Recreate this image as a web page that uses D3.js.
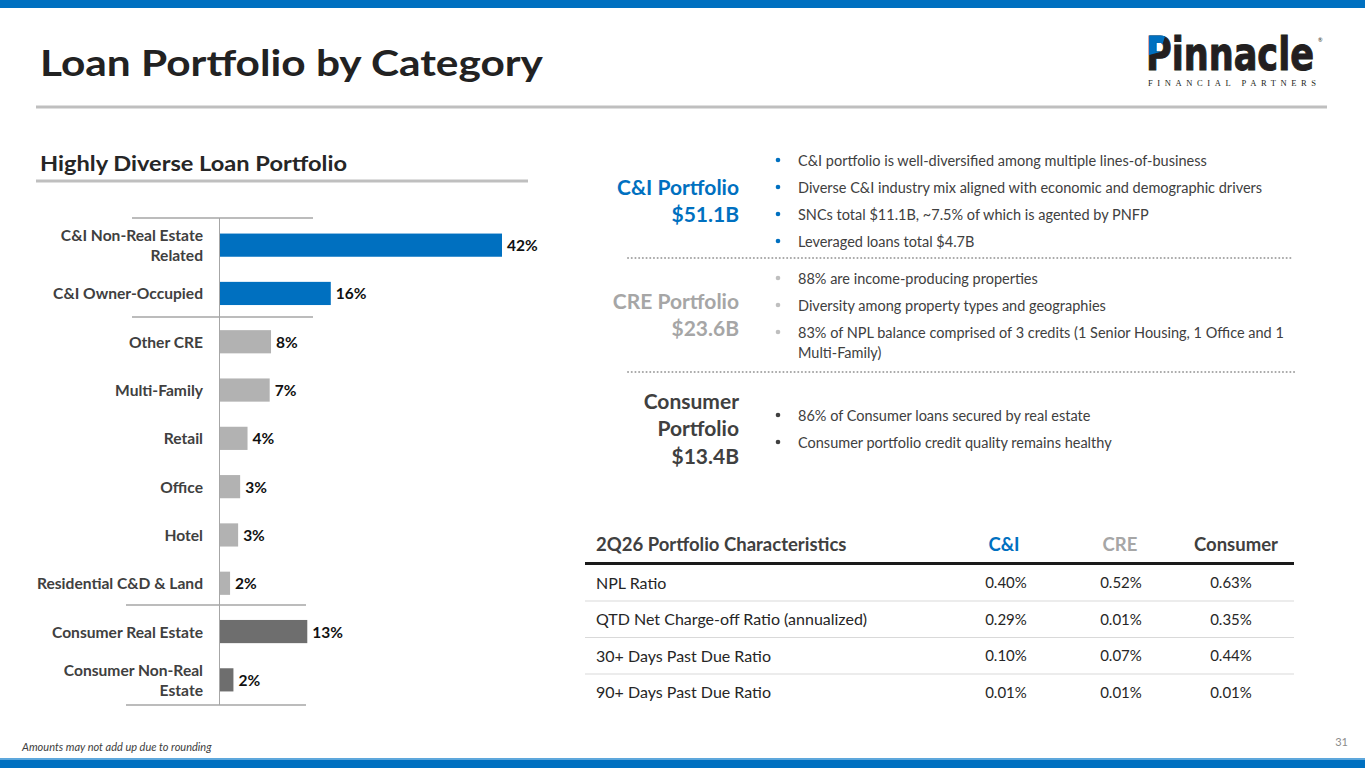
<!DOCTYPE html>
<html>
<head>
<meta charset="utf-8">
<script src="https://cdn.jsdelivr.net/npm/d3@7"></script>
<style>
  body { margin: 0; background: #fff; }
  svg { display: block; font-family: Lato, "Open Sans", sans-serif; }
</style>
</head>
<body>
<svg id="slide" width="1365" height="768"></svg>
<script>
'use strict';

// bar chart data
const categoryLines = [
    ['C&I Non-Real Estate', 'Related'],
    ['C&I Owner-Occupied'],
    ['Other CRE'],
    ['Multi-Family'],
    ['Retail'],
    ['Office'],
    ['Hotel'],
    ['Residential C&D & Land'],
    ['Consumer Real Estate'],
    ['Consumer Non-Real', 'Estate']
];
const shares = [42.0, 16.5, 7.6, 7.4, 4.1, 3.0, 2.7, 1.5, 13.0, 2.0];
const shareLabels = ['42%', '16%', '8%', '7%', '4%', '3%', '3%', '2%', '13%', '2%'];
const shareGroups = ['ci', 'ci', 'cre', 'cre', 'cre', 'cre', 'cre', 'cre', 'consumer', 'consumer'];

// portfolio blurbs
const portfolioNames = [['C&I Portfolio', '$51.1B'], ['CRE Portfolio', '$23.6B'], ['Consumer', 'Portfolio', '$13.4B']];
const ciBullets = [
    'C&I portfolio is well-diversified among multiple lines-of-business',
    'Diverse C&I industry mix aligned with economic and demographic drivers',
    'SNCs total $11.1B, ~7.5% of which is agented by PNFP',
    'Leveraged loans total $4.7B'
];
const creBullets = [
    '88% are income-producing properties',
    'Diversity among property types and geographies',
    '83% of NPL balance comprised of 3 credits (1 Senior Housing, 1 Office and 1|Multi-Family)'
];
const consumerBullets = [
    '86% of Consumer loans secured by real estate',
    'Consumer portfolio credit quality remains healthy'
];

// table data
const tableTitle = '2Q26 Portfolio Characteristics';
const tableColumns = ['C&I', 'CRE', 'Consumer'];
const tableRows = ['NPL Ratio', 'QTD Net Charge-off Ratio (annualized)', '30+ Days Past Due Ratio', '90+ Days Past Due Ratio'];
const ciRatios = ['0.40%', '0.29%', '0.10%', '0.01%'];
const creRatios = ['0.52%', '0.01%', '0.07%', '0.01%'];
const consumerRatios = ['0.63%', '0.35%', '0.44%', '0.01%'];

const BLUE = '#0070C0';
const groupColor = { ci: BLUE, cre: '#B2B2B2', consumer: '#6E6E6E' };
const svg = d3.select('#slide');

function fitWidth(sel, w)
{
    const len = sel.node().getComputedTextLength();
    if (Math.abs(len - w) > 2)
        sel.attr('textLength', w).attr('lengthAdjust', 'spacingAndGlyphs');
    return sel;
}

function drawFrame()
{
    svg.append('rect').attr('x', 0).attr('y', 0).attr('width', 1365).attr('height', 8).attr('fill', BLUE);
    svg.append('rect').attr('x', 0).attr('y', 758).attr('width', 1365).attr('height', 2).attr('fill', '#5DA7DC');
    svg.append('rect').attr('x', 0).attr('y', 760).attr('width', 1365).attr('height', 8).attr('fill', BLUE);

    fitWidth(svg.append('text').attr('x', 40).attr('y', 76)
        .attr('font-size', 36).attr('font-weight', 700).attr('fill', '#222')
        .text('Loan Portfolio by Category'), 503);

    svg.append('line').attr('x1', 36).attr('x2', 1327).attr('y1', 107).attr('y2', 107)
        .attr('stroke', '#BFBFBF').attr('stroke-width', 3);

    fitWidth(svg.append('text').attr('x', 40).attr('y', 171)
        .attr('font-size', 21).attr('font-weight', 700).attr('fill', '#262626')
        .text('Highly Diverse Loan Portfolio'), 307);
    svg.append('line').attr('x1', 36).attr('x2', 528).attr('y1', 181).attr('y2', 181)
        .attr('stroke', '#BFBFBF').attr('stroke-width', 3);

    svg.append('text').attr('x', 22).attr('y', 751)
        .attr('font-size', 11).attr('font-style', 'italic').attr('fill', '#404040')
        .text('Amounts may not add up due to rounding');
    svg.append('text').attr('x', 1348).attr('y', 746).attr('text-anchor', 'end')
        .attr('font-size', 11).attr('fill', '#8C8C8C').text('31');
}

function drawLogo()
{
    const g = svg.append('g');
    const word = (fill) => fitWidth(g.append('text').attr('x', 1146).attr('y', 70)
        .attr('font-family', '"Liberation Sans Narrow", "DejaVu Sans Condensed", sans-serif')
        .attr('font-size', 46).attr('font-weight', 700).attr('fill', fill)
        .attr('stroke', fill).attr('stroke-width', 1)
        .text('Pinnacle'), 168);

    word('#231F20');
    g.append('clipPath').attr('id', 'logoClip')
        .append('path').attr('d', 'M1142,30 L1167,30 L1160,52 L1142,57 Z');
    word(BLUE).attr('clip-path', 'url(#logoClip)');

    g.append('text').attr('x', 1318).attr('y', 42).attr('font-size', 5.5).attr('fill', '#231F20').text('®');

    fitWidth(g.append('text').attr('x', 1148).attr('y', 86)
        .attr('font-family', '"Liberation Serif", serif').attr('font-size', 8.5).attr('fill', '#231F20')
        .text('FINANCIAL  PARTNERS'), 168)
        .attr('lengthAdjust', 'spacing');
}

function drawBars()
{
    const x = d3.scaleLinear().domain([0, 42]).range([220, 502]);
    const y = d3.scaleBand().domain(d3.range(shares.length)).range([221, 704])
        .paddingInner(0.52).paddingOuter(0.26);

    const g = svg.append('g');

    g.selectAll('rect.bar')
        .data(shares).enter().append('rect')
        .attr('class', 'bar')
        .attr('x', x(0))
        .attr('y', (d, i) => y(i))
        .attr('width', (d) => x(d) - x(0))
        .attr('height', y.bandwidth())
        .style('fill', (d, i) => groupColor[shareGroups[i]]);

    g.selectAll('text.value')
        .data(shares).enter().append('text')
        .attr('class', 'value')
        .attr('x', (d) => x(d) + 5)
        .attr('y', (d, i) => y(i) + y.bandwidth() / 2)
        .attr('dominant-baseline', 'central')
        .attr('font-size', 15.5).attr('font-weight', 700).attr('fill', '#111')
        .text((d, i) => shareLabels[i]);

    const labels = g.selectAll('text.cat')
        .data(categoryLines).enter().append('text')
        .attr('class', 'cat')
        .attr('text-anchor', 'end')
        .attr('font-size', 15.6).attr('font-weight', 700).attr('fill', '#404040');
    labels.each(function (lines, i) {
        const cy = y(i) + y.bandwidth() / 2;
        const top = cy - (lines.length - 1) * 10;
        d3.select(this).selectAll('tspan')
            .data(lines).enter().append('tspan')
            .attr('x', 203)
            .attr('y', (d, j) => top + j * 20)
            .attr('dominant-baseline', 'central')
            .text((d) => d);
    });

    // axis line and group separators
    g.append('line').attr('x1', 219.5).attr('x2', 219.5).attr('y1', 218).attr('y2', 705)
        .attr('stroke', '#A6A6A6').attr('stroke-width', 1);
    const separators = [[218, 132, 313], [317, 132, 313], [605, 126, 306], [705, 126, 306]];
    g.selectAll('line.sep')
        .data(separators).enter().append('line')
        .attr('class', 'sep')
        .attr('x1', (d) => d[1]).attr('x2', (d) => d[2])
        .attr('y1', (d) => d[0]).attr('y2', (d) => d[0])
        .attr('stroke', '#A6A6A6').attr('stroke-width', 1.5);
}

function drawSection(nameLines, nameTop, nameColor, bullets, bulletTop, dotColor)
{
    const g = svg.append('g');
    nameLines.forEach((t, i) => {
        g.append('text').attr('x', 739).attr('y', nameTop + i * 27.5)
            .attr('text-anchor', 'end').attr('dominant-baseline', 'central')
            .attr('font-size', 21).attr('font-weight', 700).attr('fill', nameColor)
            .text(t);
    });

    let cy = bulletTop;
    bullets.forEach((b) => {
        g.append('circle').attr('cx', 778).attr('cy', cy).attr('r', 2.3).attr('fill', dotColor);
        b.split('|').forEach((line, j) => {
            g.append('text').attr('x', 798).attr('y', cy)
                .attr('dominant-baseline', 'central')
                .attr('font-size', 14.5).attr('fill', '#404040')
                .text(line);
            cy += (j === 0 && b.includes('|')) ? 20 : 0;
        });
        cy += 27;
    });
}

function drawPortfolios()
{
    drawSection(portfolioNames[0], 186, BLUE, ciBullets, 160, BLUE);
    drawSection(portfolioNames[1], 300, '#A6A6A6', creBullets, 278, '#BFBFBF');
    drawSection(portfolioNames[2], 400, '#404040', consumerBullets, 415, '#404040');

    [[258, 1293], [372, 1297]].forEach((d) => {
        svg.append('line').attr('x1', 628).attr('x2', d[1]).attr('y1', d[0]).attr('y2', d[0])
            .attr('stroke', '#A6A6A6').attr('stroke-width', 2)
            .attr('stroke-linecap', 'round').attr('stroke-dasharray', '0.1 3.6');
    });
}

function drawTable()
{
    const g = svg.append('g');
    const colX = d3.scaleOrdinal().domain(tableColumns).range([1006, 1121, 1231]);
    const rowY = d3.scaleBand().domain(tableRows).range([564, 710]);
    const colColors = ['#0070C0', '#A6A6A6', '#404040'];
    const colValues = [ciRatios, creRatios, consumerRatios];

    g.append('text').attr('x', 596).attr('y', 544).attr('dominant-baseline', 'central')
        .attr('font-size', 18.5).attr('font-weight', 700).attr('fill', '#404040').text(tableTitle);

    g.selectAll('text.colhead')
        .data(tableColumns).enter().append('text')
        .attr('class', 'colhead')
        .attr('x', (d, i) => colX(d) + [-2, -1, 5][i])
        .attr('y', 544)
        .attr('text-anchor', 'middle').attr('dominant-baseline', 'central')
        .attr('font-size', 18.5).attr('font-weight', 700)
        .attr('fill', (d, i) => colColors[i])
        .text((d) => d);

    g.append('line').attr('x1', 585).attr('x2', 1294).attr('y1', 563.5).attr('y2', 563.5)
        .attr('stroke', '#1A1A1A').attr('stroke-width', 3);

    g.selectAll('line.rowsep')
        .data(tableRows.slice(1)).enter().append('line')
        .attr('class', 'rowsep')
        .attr('x1', 585).attr('x2', 1294)
        .attr('y1', (d) => rowY(d) + 0.5).attr('y2', (d) => rowY(d) + 0.5)
        .attr('stroke', '#D9D9D9').attr('stroke-width', 1);

    g.selectAll('text.rowlabel')
        .data(tableRows).enter().append('text')
        .attr('class', 'rowlabel')
        .attr('x', 596)
        .attr('y', (d) => rowY(d) + rowY.bandwidth() / 2)
        .attr('dominant-baseline', 'central')
        .attr('font-size', 16).attr('fill', '#262626')
        .text((d) => d);

    tableColumns.forEach((c, ci) => {
        g.selectAll('text.cell' + ci)
            .data(colValues[ci]).enter().append('text')
            .attr('class', 'cell' + ci)
            .attr('x', colX(c))
            .attr('y', (d, i) => rowY(tableRows[i]) + rowY.bandwidth() / 2)
            .attr('text-anchor', 'middle').attr('dominant-baseline', 'central')
            .attr('font-size', 15).attr('fill', '#262626')
            .text((d) => d);
    });
}

drawFrame();
drawLogo();
drawBars();
drawPortfolios();
drawTable();
</script>
</body>
</html>
